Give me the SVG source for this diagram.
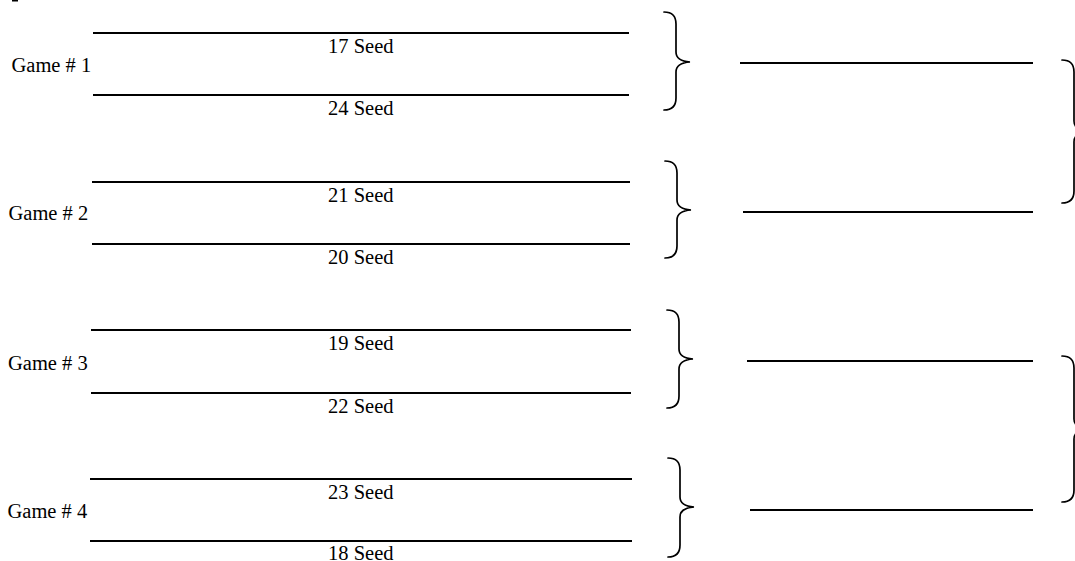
<svg xmlns="http://www.w3.org/2000/svg" width="1075" height="561" viewBox="0 0 1075 561">
<style>
.ln{stroke:#000;stroke-width:2;fill:none}
.br{stroke:#000;stroke-width:1.7;fill:none;stroke-linecap:round}
.t{font-family:"Liberation Serif","Times New Roman",serif;font-size:20.5px;fill:#000}
</style>
<rect x="0" y="0" width="1075" height="561" fill="#fff"/>
<rect x="12" y="0" width="6" height="1.5" fill="#000"/>
<g id="game1">
<line class="ln" x1="93" y1="33" x2="629" y2="33"/>
<line class="ln" x1="93" y1="95" x2="629" y2="95"/>
<text class="t" x="11.5" y="72">Game # 1</text>
<text class="t" x="328" y="52.5">17 Seed</text>
<text class="t" x="328" y="115">24 Seed</text>
</g>
<g id="game2">
<line class="ln" x1="92" y1="182" x2="630" y2="182"/>
<line class="ln" x1="92" y1="244" x2="630" y2="244"/>
<text class="t" x="8.5" y="220">Game # 2</text>
<text class="t" x="328" y="201.5">21 Seed</text>
<text class="t" x="328" y="263.5">20 Seed</text>
</g>
<g id="game3">
<line class="ln" x1="91" y1="330" x2="631" y2="330"/>
<line class="ln" x1="91" y1="393" x2="631" y2="393"/>
<text class="t" x="8" y="369.5">Game # 3</text>
<text class="t" x="328" y="349.5">19 Seed</text>
<text class="t" x="328" y="412.5">22 Seed</text>
</g>
<g id="game4">
<line class="ln" x1="90" y1="479" x2="632" y2="479"/>
<line class="ln" x1="90" y1="541" x2="632" y2="541"/>
<text class="t" x="7.5" y="518">Game # 4</text>
<text class="t" x="328" y="498.5">23 Seed</text>
<text class="t" x="328" y="559.5">18 Seed</text>
</g>
<g id="round2">
<line class="ln" x1="740" y1="63" x2="1033" y2="63"/>
<line class="ln" x1="743" y1="212" x2="1033" y2="212"/>
<line class="ln" x1="747" y1="361" x2="1033" y2="361"/>
<line class="ln" x1="750" y1="510" x2="1033" y2="510"/>
</g>
<g id="connectors">
<path class="br" d="M664,12 Q676,12 676,24 L676,52 Q676,61 690,62 Q676,63 676,72 L676,98 Q676,110 664,110"/>
<path class="br" d="M665,161 Q677,161 677,173 L677,200 Q677,209 691,210 Q677,211 677,220 L677,246 Q677,258 665,258"/>
<path class="br" d="M667,310 Q679,310 679,322 L679,349 Q679,358 693,359 Q679,360 679,369 L679,396 Q679,408 667,408"/>
<path class="br" d="M668,458 Q680,458 680,470 L680,497 Q680,506 694,507 Q680,508 680,517 L680,545 Q680,557 668,557"/>
<path class="br" d="M1062,60 Q1074,60 1074,72 L1074,121 Q1074,130 1088,131.5 Q1074,133 1074,142 L1074,191 Q1074,203 1062,203"/>
<path class="br" d="M1062,356 Q1074,356 1074,368 L1074,419 Q1074,428 1088,429 Q1074,430 1074,439 L1074,490 Q1074,502 1062,502"/>
</g>
</svg>
